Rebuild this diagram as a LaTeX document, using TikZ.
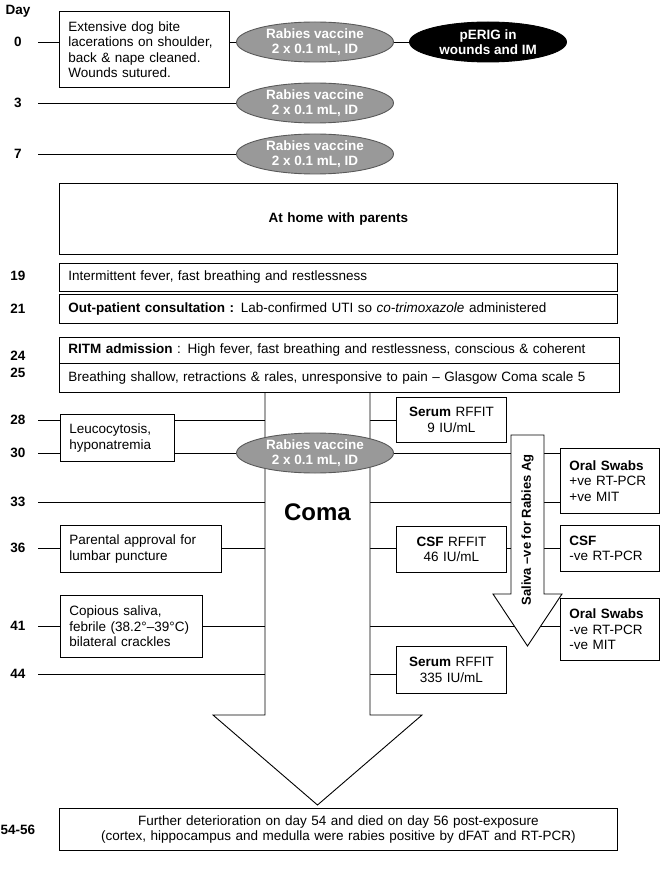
\documentclass[tikz,border=0pt]{standalone}
\usepackage{fontspec}
\setmainfont{Liberation Sans}
\usetikzlibrary{shapes.geometric}
\pgfdeclarelayer{lines}
\pgfdeclarelayer{arrows}
\pgfsetlayers{lines,arrows,main}
\newcommand{\txt}{\fontsize{13.5}{15.5}\selectfont}
\begin{document}
\begin{tikzpicture}[x=1pt,y=-1pt,
    every node/.style={font=\txt},
    day/.style={font=\txt\bfseries, minimum width=40pt, inner sep=0pt},
    box/.style={draw, fill=white, line width=0.9pt, anchor=north west, inner xsep=9pt, inner ysep=0pt, align=left},
    cbox/.style={box, align=center},
    vacc/.style={ellipse, draw=black!65, fill=black!40, line width=0.9pt, minimum width=157pt, minimum height=40pt, inner sep=0pt, align=center, text=white, font=\txt\bfseries},
    erig/.style={vacc, draw=black, fill=black},
    link/.style={line width=0.9pt}]
    \useasboundingbox (0,0) rectangle (661,877);
        % day column
        \node[day] (dhdr) at (18,11) {Day};
        \node[day] (d0) at (18,42) {0};
        \node[day] (d3) at (18,103) {3};
        \node[day] (d7) at (18,154) {7};
        \node[day] (d19) at (18,276) {19};
        \node[day] (d21) at (18,309) {21};
        \node[day] (d24) at (18,356) {24};
        \node[day] (d25) at (18,373) {25};
        \node[day] (d28) at (18,420) {28};
        \node[day] (d30) at (18,453) {30};
        \node[day] (d33) at (18,502) {33};
        \node[day] (d36) at (18,548) {36};
        \node[day] (d41) at (18,626) {41};
        \node[day] (d44) at (18,674) {44};
        \node[day] (d5456) at (18,830) {54-56};
        % first week
        \node[box, text width=152pt, minimum height=76pt] (bite) at (59,11) {Extensive dog bite\\lacerations on shoulder,\\back \& nape cleaned.\\Wounds sutured.};
        \node[vacc] (vacc0) at (315,42) {Rabies vaccine\\2 x 0.1 mL, ID};
        \node[erig] (perig) at (488,42) {pERIG in\\wounds and IM};
        \node[vacc] (vacc3) at (315,103) {Rabies vaccine\\2 x 0.1 mL, ID};
        \node[vacc] (vacc7) at (315,154) {Rabies vaccine\\2 x 0.1 mL, ID};
        \node[cbox, text width=540pt, minimum height=71pt, font=\txt\bfseries] (home) at (59,183) {At home with parents};
        \node[box, text width=540pt, minimum height=28pt] (fever) at (59,263) {Intermittent fever, fast breathing and restlessness};
        \node[box, text width=540pt, minimum height=29pt] (opd) at (59,294) {\textbf{Out-patient consultation :} Lab-confirmed UTI so \textit{co-trimoxazole} administered};
        \node[box, text width=542pt, minimum height=26pt] (ritm) at (59,337) {\textbf{RITM admission} : High fever, fast breathing and restlessness, conscious \& coherent};
        \node[box, text width=542pt, minimum height=29pt] (gcs) at (59,363) {Breathing shallow, retractions \& rales, unresponsive to pain -- Glasgow Coma scale 5};
        % coma period, left
        \node[box, text width=96pt, minimum height=47pt] (leuco) at (60,414) {Leucocytosis,\\hyponatremia};
        \node[box, text width=143pt, minimum height=47pt] (lumbar) at (60,525) {Parental approval for\\lumbar puncture};
        \node[box, text width=124pt, minimum height=62pt] (saliva) at (60,595) {Copious saliva,\\febrile (38.2°–39°C)\\bilateral crackles};
        \node[vacc] (vacc30) at (315,453) {Rabies vaccine\\2 x 0.1 mL, ID};
        \node[font=\fontsize{24}{28}\selectfont\bfseries] (coma) at (317.5,512) {Coma};
        % coma period, right
        \node[cbox, text width=92pt, minimum height=45pt] (serum1) at (396,397) {\textbf{Serum} RFFIT\\9 IU/mL};
        \node[cbox, text width=92pt, minimum height=46pt] (csfrffit) at (396,526) {\textbf{CSF} RFFIT\\46 IU/mL};
        \node[cbox, text width=92pt, minimum height=47pt] (serum2) at (396,646) {\textbf{Serum} RFFIT\\335 IU/mL};
        \node[box, text width=81pt, minimum height=65pt] (oral1) at (560,448) {\textbf{Oral Swabs}\\+ve RT-PCR\\+ve MIT};
        \node[box, text width=81pt, minimum height=46pt] (csf) at (560,525) {\textbf{CSF}\\-ve RT-PCR};
        \node[box, text width=81pt, minimum height=62pt] (oral3) at (560,598) {\textbf{Oral Swabs}\\-ve RT-PCR\\-ve MIT};
        \node[rotate=90, font=\fontsize{13}{15}\selectfont\bfseries] (salivatxt) at (527.5,530) {Saliva –ve for Rabies Ag};
        \node[cbox, text width=540pt, minimum height=42pt] (death) at (59,808) {Further deterioration on day 54 and died on day 56 post-exposure\\(cortex, hippocampus and medulla were rabies positive by dFAT and RT-PCR)};
    \begin{pgfonlayer}{lines}
        \draw[link] (d0.east) -- (d0.east -| bite.west);
        \draw[link] (d0.east -| bite.east) -- (vacc0.west);
        \draw[link] (vacc0.east) -- (perig.west);
        \draw[link] (d3.east) -- (vacc3.west);
        \draw[link] (d7.east) -- (vacc7.west);
        \draw[link] (d28.east) -- (d28.east -| serum1.west);
        \draw[link] (d30.east) -- (d30.east -| oral1.west);
        \draw[link] (d33.east) -- (d33.east -| oral1.west);
        \draw[link] (d36.east) -- (d36.east -| csf.west);
        \draw[link] (d41.east) -- (d41.east -| oral3.west);
        \draw[link] (d44.east) -- (d44.east -| serum2.west);
    \end{pgfonlayer}
    \begin{pgfonlayer}{arrows}
        \draw[link, fill=white] (265,392) -- (265,715) -- (213,715) -- (317.5,805) -- (422,715) -- (370,715) -- (370,392);
        \draw[link, fill=white] (511,435) -- (511,594) -- (493,594) -- (527.5,646) -- (562,594) -- (544,594) -- (544,435) -- cycle;
    \end{pgfonlayer}
\end{tikzpicture}
\end{document}
